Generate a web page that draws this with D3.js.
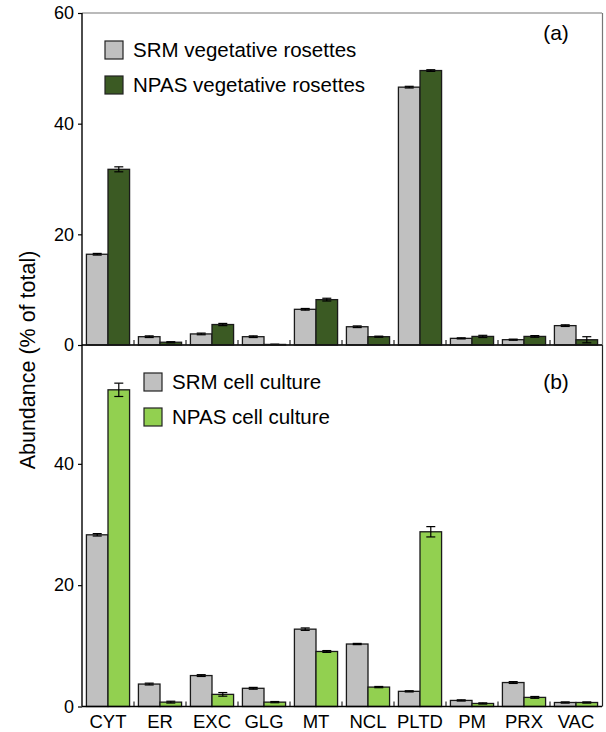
<!DOCTYPE html>
<html><head><meta charset="utf-8">
<script src="https://cdn.jsdelivr.net/npm/d3@7"></script>
<style>
body{margin:0;background:#fff;}
svg{display:block;font-family:"Liberation Sans",Arial,Helvetica,sans-serif;}
</style></head>
<body><svg id="c" width="606" height="732"></svg>
<script>
const categories = ["CYT","ER","EXC","GLG","MT","NCL","PLTD","PM","PRX","VAC"];
const yTicks = [0,20,40,60];
// panel (a)
const srmVeg    = [16.4, 1.5, 2.0, 1.5, 6.45, 3.3, 46.6, 1.2, 0.96, 3.5];
const srmVegErr = [0.15, 0.15, 0.15, 0.15, 0.15, 0.15, 0.15, 0.1, 0.1, 0.15];
const npasVeg    = [31.75, 0.5, 3.7, 0.1, 8.2, 1.5, 49.6, 1.55, 1.55, 0.95];
const npasVegErr = [0.45, 0.1, 0.2, 0.05, 0.25, 0.1, 0.15, 0.2, 0.15, 0.55];
// panel (b)
const srmCell    = [28.3, 3.7, 5.1, 3.0, 12.75, 10.3, 2.5, 1.0, 3.95, 0.66];
const srmCellErr = [0.2, 0.15, 0.15, 0.15, 0.2, 0.1, 0.1, 0.1, 0.15, 0.1];
const npasCell    = [52.2, 0.72, 2.0, 0.72, 9.07, 3.2, 28.8, 0.5, 1.5, 0.66];
const npasCellErr = [1.1, 0.15, 0.3, 0.1, 0.15, 0.1, 0.85, 0.1, 0.15, 0.1];

const svg = d3.select("#c");
const left = 82, right = 602;
const x = d3.scaleBand().domain(categories).range([left, right]).paddingInner(0.17).paddingOuter(0.085);
const xs = d3.scaleBand().domain(["SRM","NPAS"]).range([0, x.bandwidth()]);
const step = x.step();

const panels = [
  {y: d3.scaleLinear().domain([0,60]).range([345, 13]), top: 13, bottom: 345,
   a: srmVeg, ae: srmVegErr, b: npasVeg, be: npasVegErr, col: "#3b5a23",
   labels: ["SRM vegetative rosettes","NPAS vegetative rosettes"], tag: "(a)",
   lx: 105, ly: 41, tagY: 40, frame: "#777"},
  {y: d3.scaleLinear().domain([0,60]).range([706.5, 342.5]), top: 345, bottom: 706.5,
   a: srmCell, ae: srmCellErr, b: npasCell, be: npasCellErr, col: "#92d050",
   labels: ["SRM cell culture","NPAS cell culture"], tag: "(b)",
   lx: 144, ly: 373, tagY: 389, frame: "#222"}
];

panels.forEach(p => {
  const g = svg.append("g");
  // frame
  g.append("line").attr("x1", left).attr("x2", right).attr("y1", p.top).attr("y2", p.top).attr("stroke", p.frame).attr("stroke-width", 1.2);
  g.append("line").attr("x1", right+0.5).attr("x2", right+0.5).attr("y1", p.top).attr("y2", p.bottom).attr("stroke", p.frame).attr("stroke-width", 1.2);
  // y axis
  const ax = g.append("g").attr("transform", `translate(${left},0)`)
    .call(d3.axisLeft(p.y).tickValues(yTicks).tickSize(4).tickPadding(4).tickFormat(d3.format("d")));
  ax.select(".domain").remove();
  ax.selectAll("line").attr("stroke", "#000").attr("stroke-width", 1.2);
  ax.selectAll("text").attr("font-size", 18).attr("fill", "#000").attr("font-family", "Liberation Sans, Arial, sans-serif");
  ax.selectAll(".tick").filter(d => d === 60 && p.tag === "(b)").remove();
  // bars
  const series = [{k:"SRM", v:p.a, e:p.ae, c:"#c0c0c0"}, {k:"NPAS", v:p.b, e:p.be, c:p.col}];
  series.forEach(s => {
    const gg = g.append("g");
    gg.selectAll("rect").data(categories).join("rect")
      .attr("x", d => x(d) + xs(s.k))
      .attr("width", xs.bandwidth())
      .attr("y", (d,i) => p.y(s.v[i]))
      .attr("height", (d,i) => p.y(0) - p.y(s.v[i]))
      .attr("fill", s.c).attr("stroke", "#1a1a1a").attr("stroke-width", 1.3);
    const eb = gg.selectAll("g.eb").data(categories).join("g").attr("class","eb");
    const cx = d => x(d) + xs(s.k) + xs.bandwidth()/2;
    eb.append("line").attr("x1", cx).attr("x2", cx)
      .attr("y1", (d,i) => p.y(s.v[i] + s.e[i])).attr("y2", (d,i) => p.y(Math.max(0, s.v[i] - s.e[i])))
      .attr("stroke", "#000").attr("stroke-width", 1.2);
    [1,-1].forEach(sg => {
      eb.append("line").attr("x1", d => cx(d) - 4.5).attr("x2", d => cx(d) + 4.5)
        .attr("y1", (d,i) => p.y(Math.max(0, s.v[i] + sg*s.e[i]))).attr("y2", (d,i) => p.y(Math.max(0, s.v[i] + sg*s.e[i])))
        .attr("stroke", "#000").attr("stroke-width", 1.2);
    });
  });
  // x axis line + category separator ticks
  g.append("line").attr("x1", left).attr("x2", right).attr("y1", p.bottom).attr("y2", p.bottom).attr("stroke", "#000").attr("stroke-width", 1.4);
  g.selectAll("line.sep").data(categories.slice(1)).join("line").attr("class","sep")
    .attr("x1", d => x(d) - (step - x.bandwidth())/2).attr("x2", d => x(d) - (step - x.bandwidth())/2)
    .attr("y1", p.bottom).attr("y2", p.bottom - 5).attr("stroke", "#000").attr("stroke-width", 1);
  // legend
  series.forEach((s, i) => {
    g.append("rect").attr("x", p.lx).attr("y", p.ly + i*35).attr("width", 18).attr("height", 18)
      .attr("fill", s.c).attr("stroke", "#222").attr("stroke-width", 1.2);
    g.append("text").attr("x", p.lx + 28).attr("y", p.ly + i*35 + 16).attr("font-size", 20.5)
      .attr("fill", "#000").text(p.labels[i]);
  });
  g.append("text").attr("x", 556).attr("y", p.tagY).attr("text-anchor", "middle").attr("font-size", 21).attr("fill", "#000").text(p.tag);
});

// left axis line
svg.append("line").attr("x1", left).attr("x2", left).attr("y1", 13).attr("y2", 706.5).attr("stroke", "#000").attr("stroke-width", 1.4);

// x labels
svg.append("g").selectAll("text").data(categories).join("text")
  .attr("x", d => x(d) + x.bandwidth()/2).attr("y", 728).attr("text-anchor", "middle")
  .attr("font-size", 18.5).attr("fill", "#000").text(d => d);

// y title
svg.append("text").attr("transform", "translate(35,360) rotate(-90)").attr("text-anchor", "middle")
  .attr("font-size", 21.5).attr("fill", "#000").text("Abundance (% of total)");
</script></body></html>
